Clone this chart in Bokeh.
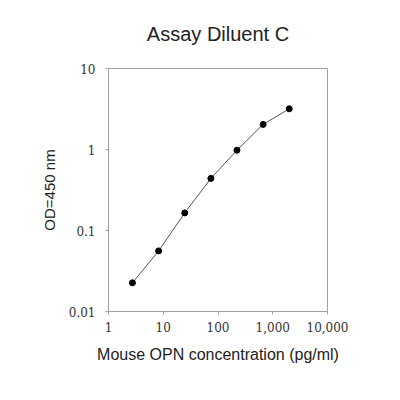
from bokeh.plotting import figure
from bokeh.models import FixedTicker, LogAxis
from bokeh.embed import file_html
from bokeh.resources import INLINE

# Data
conc = [2.74, 8.23, 24.7, 74.1, 222, 667, 2000]
od = [0.0226, 0.056, 0.165, 0.44, 0.98, 2.04, 3.18]

x_ticks = [1, 10, 100, 1000, 10000]
x_tick_labels = ["1", "10", "100", "1,000", "10,000"]
y_ticks = [0.01, 0.1, 1, 10]
y_tick_labels = ["0.01", "0.1", "1", "10"]

title_text = "Assay Diluent C"
x_label = "Mouse OPN concentration (pg/ml)"
y_label = "OD=450 nm"

p = figure(width=392, height=392, x_axis_type="log", y_axis_type="log",
           x_range=(1, 10000), y_range=(0.01, 10),
           output_backend="svg", toolbar_location=None,
           min_border_left=108, min_border_right=65,
           min_border_top=68, min_border_bottom=81)

p.background_fill_color = "white"
p.border_fill_color = "white"
p.outline_line_color = "#a0a0a0"
p.outline_line_width = 1
p.xgrid.visible = False
p.ygrid.visible = False

p.line(conc, od, line_color="#555555", line_width=1)
p.scatter(conc, od, size=6, fill_color="black", line_color="black")

xax = p.below[0]
yax = p.left[0]
for ax, ticks, labels in ((xax, x_ticks, x_tick_labels), (yax, y_ticks, y_tick_labels)):
    ax.ticker = FixedTicker(ticks=ticks, minor_ticks=[])
    ax.major_label_overrides = {t: l for t, l in zip(ticks, labels)}
    ax.axis_line_color = "#a0a0a0"
    ax.major_tick_line_color = "#a0a0a0"
    ax.minor_tick_line_color = None
    ax.major_tick_in = 0
    ax.major_tick_out = 3
    ax.major_label_text_font = "DejaVu Serif"
    ax.major_label_text_font_size = "12px"
    ax.major_label_text_color = "#333333"
    ax.axis_label_text_font = "Liberation Sans"
    ax.axis_label_text_font_style = "normal"
    ax.axis_label_text_color = "#222222"

xax.axis_label = x_label
xax.axis_label_text_font_size = "16px"
xax.major_label_standoff = 7
xax.axis_label_standoff = 11

yax.axis_label = y_label
yax.axis_label_text_font_size = "15px"
yax.major_label_standoff = 10
yax.axis_label_standoff = 8

# title drawn as the label of a bare axis above the frame
top_axis = LogAxis(ticker=FixedTicker(ticks=[], minor_ticks=[]),
                   axis_line_color=None, major_tick_line_color=None,
                   minor_tick_line_color=None, major_tick_out=0, major_tick_in=0,
                   major_label_text_font_size="0px", major_label_standoff=0,
                   axis_label=title_text, axis_label_standoff=24,
                   axis_label_text_font="Liberation Sans",
                   axis_label_text_font_size="20px",
                   axis_label_text_font_style="normal",
                   axis_label_text_color="#222222")
p.add_layout(top_axis, "above")

open("out.html", "w").write(file_html(p, INLINE))
